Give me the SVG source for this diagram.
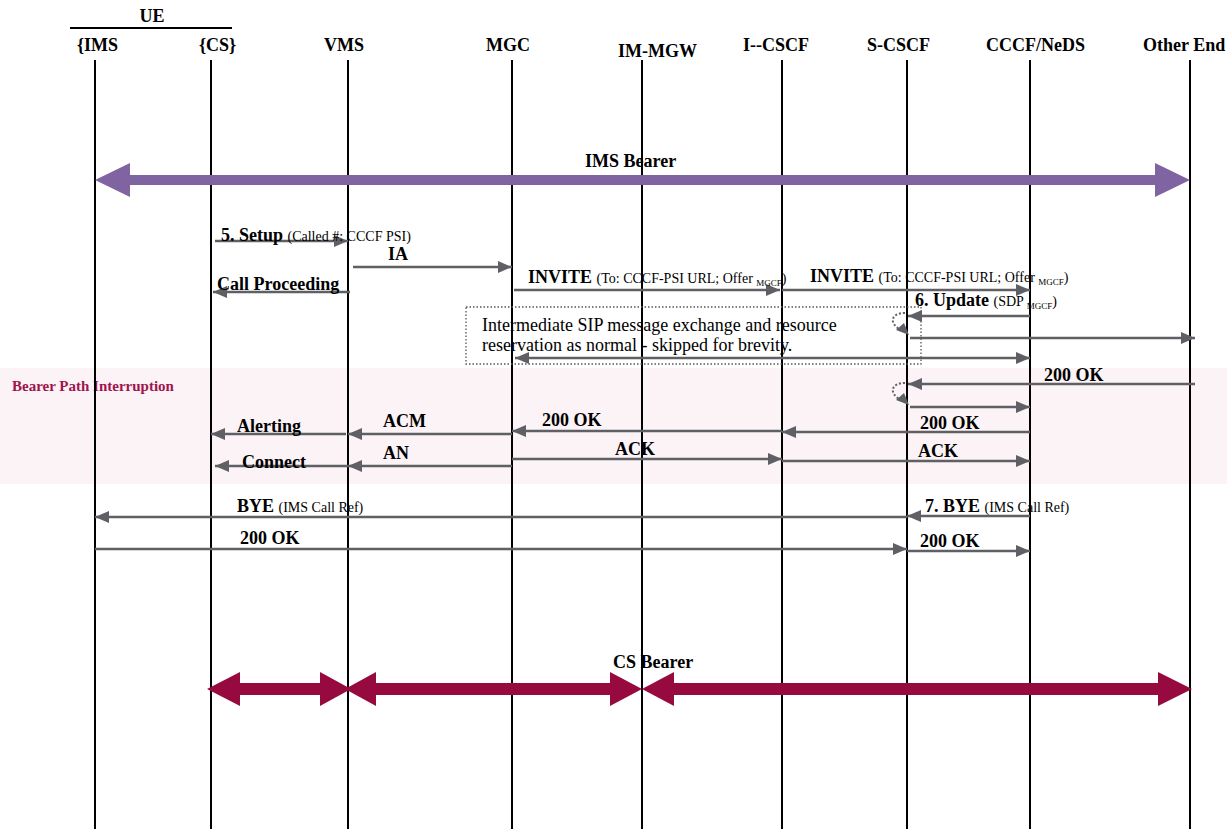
<svg xmlns="http://www.w3.org/2000/svg" width="1227" height="829" viewBox="0 0 1227 829">
<style>
.ll{stroke:#000;stroke-width:2;fill:none}
.hd{font-family:"Liberation Serif",serif;font-weight:bold;font-size:18px;fill:#000}
.lb{font-family:"Liberation Serif",serif;font-weight:bold;font-size:18px;fill:#000}
.sm{font-family:"Liberation Serif",serif;font-weight:normal;font-size:14px}
.sub{font-family:"Liberation Serif",serif;font-weight:normal;font-size:9px}
.tx{font-family:"Liberation Serif",serif;font-size:18px;fill:#000}
.msg{stroke:#5f5f66;stroke-width:2.5;fill:none;marker-end:url(#ah)}
.loop{stroke:#5f5f66;stroke-width:2;stroke-dasharray:2,2;fill:none}
.imsb{fill:#8064a2}
.csb{fill:#960a40}
</style>
<defs>
<marker id="ah" markerWidth="16" markerHeight="14" refX="14" refY="6" orient="auto" markerUnits="userSpaceOnUse">
<path d="M0,0 L14,6 L0,12 z" fill="#5f5f66"/>
</marker>
<marker id="ahs" markerWidth="16" markerHeight="14" refX="0" refY="6" orient="auto" markerUnits="userSpaceOnUse">
<path d="M14,0 L0,6 L14,12 z" fill="#5f5f66"/>
</marker>
</defs>
<rect x="0" y="368" width="1227" height="116" fill="#fcf3f6"/>
<text x="12" y="391" font-family="Liberation Serif,serif" font-weight="bold" font-size="15" fill="#a0144c">Bearer Path Interruption</text>
<g id="ue-header">
<text x="152" y="22" class="hd" text-anchor="middle">UE</text>
<line x1="70" y1="28" x2="232" y2="28" stroke="#000" stroke-width="2"/>
</g>
<g id="ims"><text x="77" y="51" class="hd">{IMS</text><line class="ll" x1="95" y1="60" x2="95" y2="829"/></g>
<g id="cs"><text x="199" y="51" class="hd">{CS}</text><line class="ll" x1="211" y1="60" x2="211" y2="829"/></g>
<g id="vms"><text x="324" y="51" class="hd">VMS</text><line class="ll" x1="348" y1="60" x2="348" y2="829"/></g>
<g id="mgc"><text x="486" y="51" class="hd">MGC</text><line class="ll" x1="512" y1="60" x2="512" y2="829"/></g>
<g id="immgw"><text x="618" y="57" class="hd">IM-MGW</text><line class="ll" x1="642" y1="60" x2="642" y2="829"/></g>
<g id="icscf"><text x="743" y="51" class="hd">I--CSCF</text><line class="ll" x1="782" y1="60" x2="782" y2="829"/></g>
<g id="scscf"><text x="867" y="51" class="hd">S-CSCF</text><line class="ll" x1="907" y1="60" x2="907" y2="829"/></g>
<g id="cccf"><text x="986" y="51" class="hd">CCCF/NeDS</text><line class="ll" x1="1030" y1="60" x2="1030" y2="829"/></g>
<g id="other"><text x="1143" y="51" class="hd">Other End</text><line class="ll" x1="1190" y1="60" x2="1190" y2="829"/></g>
<g id="ims-bearer">
<rect class="imsb" x="125" y="175" width="1035" height="10"/>
<polygon class="imsb" points="95,180 130,163 130,197"/>
<polygon class="imsb" points="1190,180 1155,163 1155,197"/>
<text x="585" y="167" class="lb">IMS Bearer</text>
</g>
<g id="cs-bearer">
<rect class="csb" x="235" y="683" width="90" height="12"/>
<polygon class="csb" points="207,689 240,672 240,706"/>
<polygon class="csb" points="351,689 320,672 320,706"/>
<rect class="csb" x="370" y="683" width="250" height="12"/>
<polygon class="csb" points="345,689 376,672 376,706"/>
<polygon class="csb" points="642,689 610,672 610,706"/>
<rect class="csb" x="665" y="683" width="500" height="12"/>
<polygon class="csb" points="642,689 674,672 674,706"/>
<polygon class="csb" points="1192,689 1158,672 1158,706"/>
<text x="613" y="668" class="lb">CS Bearer</text>
</g>
<g id="note">
<rect x="466" y="307" width="455" height="57" fill="none" stroke="#555" stroke-width="1.3" stroke-dasharray="1.5,2"/>
<text x="482" y="331" class="tx">Intermediate SIP message exchange and resource</text>
<text x="482" y="351" class="tx">reservation as normal - skipped for brevity.</text>
</g>
<g id="connectors">
<line class="msg" x1="215" y1="241" x2="348" y2="241"/>
<line class="msg" x1="353" y1="267" x2="512" y2="267"/>
<line class="msg" x1="350" y1="292" x2="213" y2="292"/>
<line class="msg" x1="514" y1="290" x2="780" y2="290"/>
<line class="msg" x1="782" y1="290" x2="1030" y2="290"/>
<line class="msg" x1="1030" y1="316" x2="908" y2="316"/>
<path class="loop" d="M905,313 C890,313 889,324 901,330"/>
<polygon points="909,335 896,330 904,323" fill="#5f5f66"/>
<line class="msg" x1="910" y1="338" x2="1195" y2="338"/>
<line class="msg" x1="515" y1="358" x2="1030" y2="358" marker-start="url(#ahs)"/>
<line class="msg" x1="1195" y1="384" x2="908" y2="384"/>
<path class="loop" d="M905,383 C890,383 889,394 901,400"/>
<polygon points="909,405 896,400 904,393" fill="#5f5f66"/>
<line class="msg" x1="910" y1="407" x2="1030" y2="407"/>
<line class="msg" x1="1030" y1="432" x2="782" y2="432"/>
<line class="msg" x1="782" y1="431" x2="512" y2="431"/>
<line class="msg" x1="512" y1="434" x2="348" y2="434"/>
<line class="msg" x1="346" y1="434" x2="211" y2="434"/>
<line class="msg" x1="512" y1="459" x2="782" y2="459"/>
<line class="msg" x1="782" y1="461" x2="1030" y2="461"/>
<line class="msg" x1="512" y1="466" x2="348" y2="466"/>
<line class="msg" x1="348" y1="466" x2="215" y2="466"/>
<line class="msg" x1="907" y1="517" x2="95" y2="517"/>
<line class="msg" x1="1030" y1="516" x2="907" y2="516"/>
<line class="msg" x1="95" y1="549" x2="907" y2="549"/>
<line class="msg" x1="907" y1="551" x2="1030" y2="551"/>
</g>
<g id="labels">
<text x="221" y="241" class="lb">5. Setup <tspan class="sm">(Called #: CCCF PSI)</tspan></text>
<text x="388" y="260" class="lb">IA</text>
<text x="217" y="290" class="lb">Call Proceeding</text>
<text x="528" y="283" class="lb">INVITE <tspan class="sm">(To: CCCF-PSI URL; Offer </tspan><tspan class="sub" dy="3">MGCF</tspan><tspan class="sm" dy="-3">)</tspan></text>
<text x="810" y="282" class="lb">INVITE <tspan class="sm">(To: CCCF-PSI URL; Offer </tspan><tspan class="sub" dy="3">MGCF</tspan><tspan class="sm" dy="-3">)</tspan></text>
<text x="915" y="306" class="lb">6. Update <tspan class="sm">(SDP </tspan><tspan class="sub" dy="3">MGCF</tspan><tspan class="sm" dy="-3">)</tspan></text>
<text x="1044" y="381" class="lb">200 OK</text>
<text x="542" y="426" class="lb">200 OK</text>
<text x="920" y="429" class="lb">200 OK</text>
<text x="383" y="427" class="lb">ACM</text>
<text x="237" y="432" class="lb">Alerting</text>
<text x="615" y="455" class="lb">ACK</text>
<text x="918" y="457" class="lb">ACK</text>
<text x="383" y="459" class="lb">AN</text>
<text x="242" y="468" class="lb">Connect</text>
<text x="237" y="512" class="lb">BYE <tspan class="sm">(IMS Call Ref)</tspan></text>
<text x="925" y="512" class="lb">7. BYE <tspan class="sm">(IMS Call Ref)</tspan></text>
<text x="240" y="544" class="lb">200 OK</text>
<text x="920" y="547" class="lb">200 OK</text>
</g>
</svg>
